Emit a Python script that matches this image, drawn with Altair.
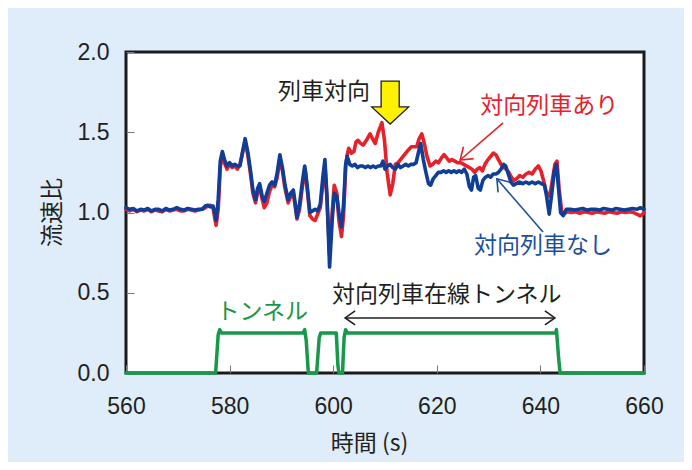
import altair as alt
import pandas as pd

# ---- data ----
blue = [(560,1.03),(560.7,1.02),(561.4,1.025),(562.1,1.01),(562.8,1.02),(563.5,1.015),(564.2,1.025),(564.9,1.01),(565.6,1.02),(566.3,1.02),(567.0,1.01),(567.7,1.025),(568.4,1.015),(569.1,1.02),(569.8,1.03),(570.5,1.02),(571.2,1.015),(571.9,1.025),(572.6,1.02),(573.3,1.015),(574.0,1.02),(574.7,1.02),(575.3,1.04),(575.8,1.045),(576.3,1.035),(576.8,1.04),(577.1,1.00),(577.4,0.95),(577.8,1.08),(578.2,1.32),(578.6,1.38),(579.0,1.33),(579.5,1.29),(580.0,1.31),(580.5,1.29),(581.0,1.30),(581.5,1.29),(582.0,1.29),(582.5,1.38),(583.0,1.46),(583.5,1.38),(584.0,1.27),(584.5,1.14),(585.0,1.08),(585.4,1.15),(585.8,1.18),(586.3,1.10),(586.7,1.07),(587.2,1.12),(587.7,1.17),(588.2,1.19),(588.7,1.17),(589.2,1.25),(589.7,1.36),(590.2,1.28),(590.7,1.17),(591.3,1.08),(591.8,1.12),(592.3,1.14),(592.7,1.05),(593.0,0.97),(593.5,1.05),(594.0,1.18),(594.5,1.29),(595.0,1.16),(595.5,1.00),(596.0,1.01),(596.5,1.02),(597.0,1.01),(597.5,1.05),(598.0,1.22),(598.4,1.33),(598.8,1.10),(599.3,0.66),(599.8,0.95),(600.2,1.12),(600.7,1.10),(601.1,1.00),(601.6,0.91),(602.0,1.05),(602.4,1.30),(602.7,1.35),(603.2,1.30),(603.7,1.29),(604.2,1.30),(604.7,1.28),(605.2,1.29),(605.7,1.29),(606.2,1.28),(606.7,1.29),(607.2,1.28),(607.7,1.29),(608.2,1.28),(608.7,1.29),(609.2,1.29),(609.6,1.32),(610.0,1.27),(610.5,1.29),(611.0,1.30),(611.5,1.28),(612.0,1.27),(612.5,1.30),(613.0,1.28),(613.5,1.29),(614.0,1.30),(614.5,1.29),(615.0,1.30),(615.5,1.30),(616.0,1.31),(616.5,1.38),(616.9,1.43),(617.4,1.33),(617.9,1.25),(618.4,1.18),(618.8,1.17),(619.3,1.21),(619.8,1.23),(620.3,1.25),(620.8,1.25),(621.3,1.26),(621.8,1.25),(622.3,1.26),(622.8,1.25),(623.3,1.26),(623.8,1.25),(624.3,1.26),(624.8,1.25),(625.3,1.27),(625.8,1.24),(626.3,1.16),(626.7,1.14),(627.1,1.22),(627.5,1.23),(628.0,1.15),(628.4,1.14),(628.9,1.20),(629.4,1.22),(629.9,1.23),(630.4,1.22),(630.9,1.24),(631.4,1.24),(631.9,1.25),(632.4,1.27),(632.9,1.30),(633.3,1.29),(633.8,1.24),(634.3,1.19),(634.8,1.17),(635.3,1.18),(636.0,1.19),(636.6,1.18),(637.2,1.19),(637.8,1.18),(638.4,1.19),(639.0,1.18),(639.6,1.19),(640.2,1.18),(640.8,1.17),(641.2,1.10),(641.7,0.99),(642.2,1.12),(642.7,1.26),(643.1,1.30),(643.5,1.15),(643.9,1.00),(644.4,0.98),(645.0,1.02),(645.8,1.02),(646.6,1.015),(647.4,1.02),(648.2,1.025),(649.0,1.015),(649.8,1.02),(650.6,1.02),(651.4,1.015),(652.2,1.025),(653.0,1.02),(653.8,1.015),(654.6,1.025),(655.4,1.02),(656.2,1.015),(657.0,1.02),(657.8,1.025),(658.6,1.02),(659.3,1.03),(660.0,1.02)]

red = [(560,1.02),(560.7,1.01),(561.4,1.02),(562.1,1.005),(562.8,1.015),(563.5,1.01),(564.2,1.02),(564.9,1.005),(565.6,1.015),(566.3,1.01),(567.0,1.005),(567.7,1.02),(568.4,1.01),(569.1,1.015),(569.8,1.02),(570.5,1.01),(571.2,1.01),(571.9,1.02),(572.6,1.015),(573.3,1.01),(574.0,1.015),(574.7,1.02),(575.3,1.03),(575.8,1.04),(576.3,1.045),(576.8,1.03),(577.1,0.97),(577.4,0.92),(577.8,1.02),(578.2,1.28),(578.6,1.36),(579.0,1.31),(579.5,1.27),(580.0,1.30),(580.5,1.28),(581.0,1.29),(581.5,1.27),(582.0,1.30),(582.5,1.37),(583.0,1.44),(583.5,1.36),(584.0,1.25),(584.5,1.12),(585.0,1.06),(585.4,1.12),(585.8,1.16),(586.3,1.08),(586.7,1.03),(587.2,1.06),(587.7,1.13),(588.2,1.17),(588.7,1.16),(589.2,1.22),(589.7,1.33),(590.2,1.26),(590.7,1.15),(591.3,1.06),(591.8,1.10),(592.3,1.12),(592.7,1.03),(593.0,0.96),(593.5,1.02),(594.0,1.15),(594.6,1.27),(595.0,1.14),(595.5,0.98),(596.0,0.96),(596.5,0.95),(597.0,0.99),(597.5,1.03),(598.0,1.18),(598.4,1.30),(598.8,1.08),(599.3,0.74),(599.8,1.00),(600.2,1.17),(600.7,1.12),(601.1,0.95),(601.6,0.85),(602.0,0.98),(602.4,1.28),(602.7,1.36),(603.0,1.40),(603.5,1.37),(604.0,1.38),(604.4,1.44),(604.8,1.45),(605.3,1.43),(605.8,1.42),(606.4,1.45),(607.1,1.49),(607.6,1.46),(608.1,1.43),(608.7,1.50),(609.4,1.56),(609.9,1.45),(610.4,1.25),(611.0,1.11),(611.5,1.18),(612.0,1.30),(612.5,1.31),(613.0,1.33),(613.5,1.35),(614.0,1.37),(614.5,1.39),(615.1,1.41),(615.6,1.41),(616.1,1.41),(616.6,1.46),(617.1,1.49),(617.6,1.43),(618.1,1.35),(618.7,1.29),(619.2,1.30),(619.8,1.32),(620.3,1.31),(620.9,1.34),(621.4,1.36),(621.9,1.34),(622.4,1.32),(622.9,1.33),(623.5,1.32),(624.0,1.31),(624.6,1.31),(625.2,1.30),(625.7,1.29),(626.3,1.28),(626.8,1.27),(627.3,1.25),(627.8,1.27),(628.3,1.28),(628.8,1.26),(629.3,1.30),(629.9,1.33),(630.4,1.35),(630.9,1.37),(631.4,1.36),(631.9,1.33),(632.4,1.30),(632.9,1.28),(633.4,1.27),(633.9,1.25),(634.4,1.22),(634.9,1.20),(635.4,1.21),(636.0,1.23),(636.6,1.22),(637.2,1.24),(637.8,1.25),(638.4,1.24),(639.0,1.27),(639.6,1.29),(640.1,1.26),(640.6,1.20),(641.1,1.13),(641.8,1.10),(642.3,1.20),(642.8,1.30),(643.2,1.32),(643.6,1.15),(644.1,1.01),(644.5,0.99),(645.2,1.005),(646.0,1.00),(646.8,1.005),(647.6,0.995),(648.4,1.005),(649.2,1.00),(650.0,0.995),(650.8,1.005),(651.6,1.00),(652.4,0.995),(653.2,1.005),(654.0,1.00),(654.8,0.995),(655.6,1.005),(656.4,1.00),(657.2,1.005),(658.0,1.00),(658.6,0.99),(659.2,0.98),(659.6,0.985),(660.0,1.00)]

tunnel = [(560,0.0),(577.3,0.0),(577.8,0.24),(578.1,0.27),(578.4,0.25),(594.2,0.25),(594.5,0.27),(594.8,0.20),(595.2,0.0),(596.8,0.0),(597.3,0.22),(597.6,0.25),(600.6,0.25),(600.9,0.05),(601.1,0.0),(601.8,0.0),(602.1,0.22),(602.4,0.27),(602.7,0.25),(642.9,0.25),(643.1,0.27),(643.5,0.10),(643.8,0.0),(660,0.0)]

x_ticks = [560, 580, 600, 620, 640, 660]
y_ticks = [0.0, 0.5, 1.0, 1.5, 2.0]

label_text = ["列車対向", "対向列車あり", "対向列車なし", "トンネル", "対向列車在線トンネル"]
label_t = [598.2, 641.7, 640.5, 586.3, 621.9]
label_v = [1.753, 1.664, 0.794, 0.382, 0.486]
label_color = ["#231f20", "#e8202a", "#1a4e9e", "#17984a", "#231f20"]

meet_arrow_t = [611.0]
meet_arrow_v = [1.685]

red_arrow_t = [632.8, 624.5]
red_arrow_v = [1.558, 1.327]
blue_arrow_t = [640.5, 631.6]
blue_arrow_v = [0.878, 1.210]
span_arrow_t = [602.3, 642.8]
span_arrow_v = [0.343, 0.343]

RED = "#e8202a"
BLUE = "#0f3d97"
GREEN = "#17984a"
INK = "#231f20"

def pairs(p):
    return pd.DataFrame({"t": [a for a, _ in p], "v": [b for _, b in p], "i": list(range(len(p)))})

xs = alt.Scale(domain=[560, 660], nice=False, zero=False)
ys = alt.Scale(domain=[0, 2], nice=False, zero=False)
X = alt.X("t:Q", scale=xs, axis=alt.Axis(values=x_ticks, title="時間 (s)", format="d",
          titleX=243, titleY=78, titleBaseline="middle", labelPadding=22))
Y = alt.Y("v:Q", scale=ys, axis=alt.Axis(values=y_ticks, title="流速比", format=".1f",
          titleX=-82, titleY=160, titleAngle=270, titleBaseline="middle", labelPadding=17))

def line(df, color, width):
    return alt.Chart(df).mark_line(color=color, strokeWidth=width, strokeJoin="round",
                                   strokeCap="round").encode(x=X, y=Y, order="i:Q")

green_l = line(pairs(tunnel), GREEN, 3.5)
red_l = line(pairs(red), RED, 3.6)
blue_l = line(pairs(blue), BLUE, 3.6)

labels_df = pd.DataFrame({"t": label_t, "v": label_v, "label": label_text, "c": label_color})
labels = alt.Chart(labels_df).mark_text(font="Noto Sans CJK JP", fontSize=23, baseline="middle",
                                        align="center").encode(
    x=X, y=Y, text="label:N", color=alt.Color("c:N", scale=None))

arrow_df = pd.DataFrame({"t": meet_arrow_t, "v": meet_arrow_v})
big_arrow = alt.Chart(arrow_df).mark_point(
    shape="M-0.42,-1 L0.42,-1 L0.42,0.2 L0.86,0.2 L0,1 L-0.86,0.2 L-0.42,0.2 Z",
    size=1849, filled=True, fill="#fff200", stroke="#231f20", strokeWidth=1.3, opacity=1
).encode(x=X, y=Y)

def shaft(ts, vs, color, width):
    d = pd.DataFrame({"t": ts, "v": vs, "i": [0, 1]})
    return alt.Chart(d).mark_line(color=color, strokeWidth=width).encode(x=X, y=Y, order="i:Q")

def head(t, v, color, angle, size, width):
    d = pd.DataFrame({"t": [t], "v": [v]})
    return alt.Chart(d).mark_point(shape="M-0.7,1 L0,0 L0.7,1", size=size, filled=False,
                                   stroke=color, strokeWidth=width, opacity=1,
                                   angle=angle).encode(x=X, y=Y)

red_arrow = shaft(red_arrow_t, red_arrow_v, RED, 1.6) + head(red_arrow_t[1], red_arrow_v[1], RED, 229, 500, 1.6)
blue_arrow = shaft(blue_arrow_t, blue_arrow_v, "#1a4e9e", 1.6) + head(blue_arrow_t[1], blue_arrow_v[1], "#1a4e9e", 320, 500, 1.6)
span_arrow = (shaft(span_arrow_t, span_arrow_v, INK, 1.6)
              + head(span_arrow_t[0], span_arrow_v[0], INK, 270, 400, 1.6)
              + head(span_arrow_t[1], span_arrow_v[1], INK, 90, 400, 1.6))

chart = alt.layer(
    green_l, red_l, blue_l, red_arrow, blue_arrow, span_arrow, big_arrow, labels
).properties(
    width=518, height=321,
    autosize=alt.AutoSizeParams(type="none"),
    padding={"left": 118, "top": 44, "right": 40, "bottom": 89},
    background="#dfecf9",
).configure_view(
    stroke="#1a1a1a", strokeWidth=3, fill="white"
).configure_axis(
    labelFont="Liberation Sans", labelFontSize=23, labelColor=INK,
    titleFont="Noto Sans CJK JP", titleFontSize=23, titleColor=INK, titleFontWeight="normal",
    domain=False, grid=False, ticks=True, tickSize=8, tickColor="#777", tickWidth=1,
    offset=-8, labelFlush=False, labelOverlap=False
)

chart.save("out.html", embed_options={"renderer": "svg", "actions": False})
